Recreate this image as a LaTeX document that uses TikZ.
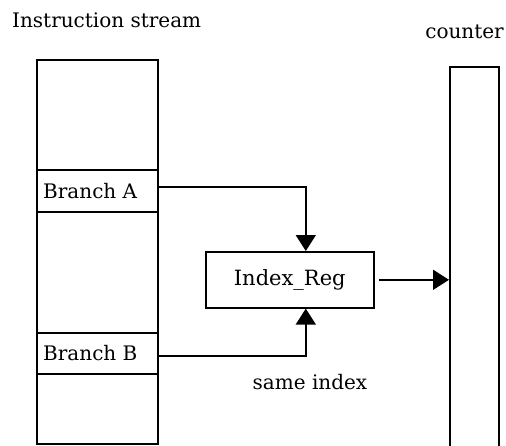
\documentclass[tikz,border=0pt]{standalone}
\usepackage{fontspec}
\setmainfont{DejaVu Serif}
\usetikzlibrary{arrows.meta}
\begin{document}
\begin{tikzpicture}[x=1pt,y=-1pt,
  box/.style={draw,line width=1.6pt,inner sep=0pt},
  lbl/.style={font=\fontsize{20}{24}\selectfont,inner sep=0pt},
  conn/.style={line width=1.6pt,-{Triangle[width=20pt,length=16pt]}}]
  \useasboundingbox (0,0) rectangle (506,445);
  % instruction stream column
  \node[box,minimum width=121pt,minimum height=384pt,anchor=north west] (stream) at (36,59) {};
  \node[box,minimum width=121pt,minimum height=42pt,anchor=north west] (ba) at (36,169) {};
  \node[box,minimum width=121pt,minimum height=41pt,anchor=north west] (bb) at (36,332) {};
  \node[lbl,anchor=west] at ([xshift=7pt]ba.west) {Branch A};
  \node[lbl,anchor=west] at ([xshift=7pt]bb.west) {Branch B};
  % counter column (runs past the lower edge)
  \node[box,minimum width=49pt,minimum height=400pt,anchor=north west] (counter) at (449,66) {};
  % index register
  \node[box,minimum width=168pt,minimum height=56pt,anchor=north west] (reg) at (205,251) {};
  \node[lbl,font=\fontsize{21}{24}\selectfont] at (reg.center) {Index\_Reg};
  % labels
  \node[lbl,anchor=west] (title) at (12,20) {Instruction stream};
  \node[lbl,anchor=east] (ctitle) at (504,32) {counter};
  \node[lbl] (same) at (310,382) {same index};
  % connectors
  \coordinate (aout) at (157,187);
  \coordinate (bout) at (157,356);
  \draw[conn] (aout) -| ([xshift=16pt]reg.north);
  \draw[conn] (bout) -| ([xshift=16pt]reg.south);
  \draw[conn] ([xshift=4pt]reg.east) -- (counter.west |- reg.east);
\end{tikzpicture}
\end{document}
